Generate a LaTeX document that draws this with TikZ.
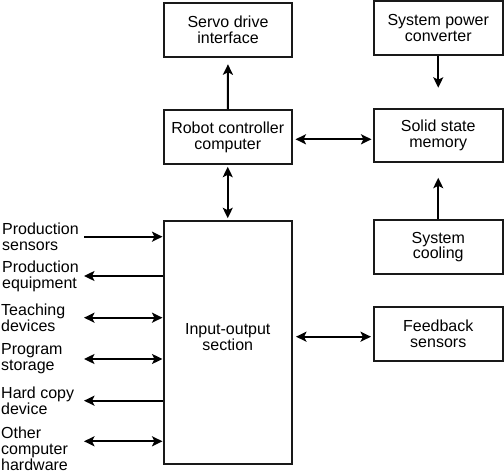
\documentclass[tikz,border=0pt]{standalone}
\usepackage{fontspec}
\setmainfont{Liberation Sans}
\usetikzlibrary{arrows.meta}
\begin{document}
\begin{tikzpicture}[x=1pt,y=-1pt,
  font=\fontsize{16}{15.8}\selectfont,
  box/.style={draw=black!90,line width=2pt,minimum width=128.5pt,minimum height=53.5pt,align=center,inner sep=0pt},
  lbl/.style={anchor=west,align=left,inner sep=0pt},
  tip/.tip={Stealth[length=10.5pt,width=10pt,inset=2.5pt]},
  conn/.style={line width=2pt,tip-tip},
  one/.style={line width=2pt,-tip},
  ]
\useasboundingbox (0,0) rectangle (504,476);
% boxes
\node[box] (servo) at (228,30) {Servo drive\\interface};
\node[box] (power) at (438.25,28) {System power\\converter};
\node[box] (robot) at (227.75,137) {Robot controller\\computer};
\node[box] (solid) at (438.25,135.5) {Solid state\\memory};
\node[box] (cool) at (438.25,247) {System\\cooling};
\node[box] (fb) at (438.25,334) {Feedback\\sensors};
\node[box,minimum height=243.5pt] (io) at (227.75,342.5) {};
\node[align=center,inner sep=0pt] (iotext) at (227.75,337) {Input-output\\section};
% top connectors
\draw[one,shorten >=6.5pt] (robot.north) -- (servo.south);
\draw[one,shorten >=20pt] (power.south) -- (power.south |- solid.north);
\draw[one,shorten >=14.5pt] (cool.north) -- (cool.north |- solid.south);
\draw[conn,shorten <=2.5pt,shorten >=1.5pt] (robot.east |- 0,139.3) -- (solid.west |- 0,139.3);
\draw[conn,shorten <=2pt,shorten >=1.5pt] (robot.south) -- (io.north);
\draw[conn,shorten <=3pt,shorten >=2pt] (io.east |- 0,336.7) -- (fb.west |- 0,336.7);
% left labels
\node[lbl] (l1) at (2,236.5) {Production\\sensors};
\node[lbl] (l2) at (2,276) {Production\\equipment};
\node[lbl] (l3) at (1,317.7) {Teaching\\devices};
\node[lbl] (l4) at (1,359) {Program\\storage};
\node[lbl] (l5) at (1,400.7) {Hard copy\\device};
\node[lbl] (l6) at (1,449) {Other\\computer\\hardware};
\coordinate (c1) at (84,236.7);
\coordinate (c2) at (84,276);
\coordinate (c3) at (84,317.7);
\coordinate (c4) at (84,359);
\coordinate (c5) at (84,400.7);
\coordinate (c6) at (84,441.3);
\draw[one] (c1) -- (c1 -| io.west);
\draw[one] (c2 -| io.west) -- (c2);
\draw[conn] (c3) -- (c3 -| io.west);
\draw[conn] (c4) -- (c4 -| io.west);
\draw[one] (c5 -| io.west) -- (c5);
\draw[conn] (c6) -- (c6 -| io.west);
\end{tikzpicture}
\end{document}
